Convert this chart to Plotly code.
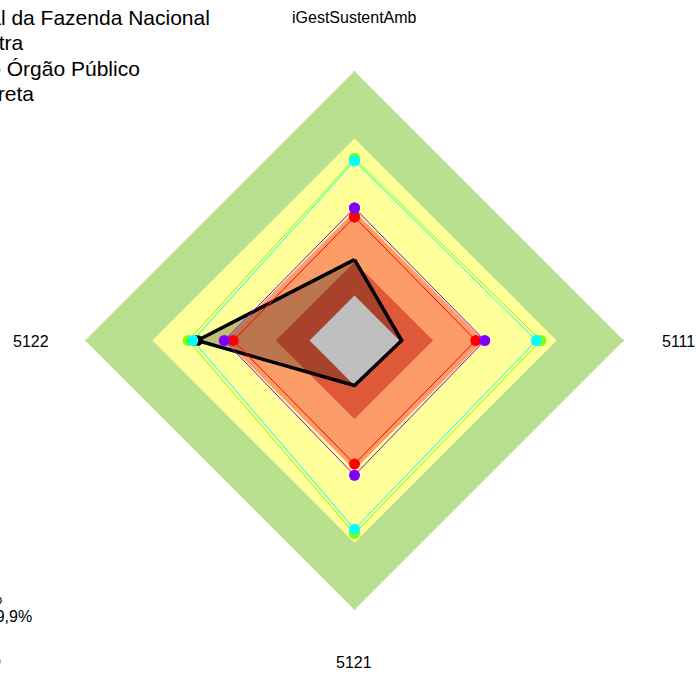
import plotly.graph_objects as go

# Axes of the radar (clockwise from the top)
categories = ["iGestSustentAmb", "5111", "5121", "5122"]

# Capability bands (upper limit of each band)
band_limits = [1.0, 0.70, 0.375, 0.15, 0.0]
band_colors = ["#B8E08E", "#FFFF99", "#FC9C68", "#E0583A", "#FFFFFF"]

# Organisation scores
org_name = "Procuradoria-Geral da Fazenda Nacional"
org_values = [0.16, 0.01, 0.0, 0.50]

# Reference series
ref_names = ["Média da Amostra", "Média do Tipo Órgão Público",
             "Média da Administração Direta", "Meta"]
ref_colors = ["#FF0000", "#8000FF", "#80FF00", "#00FFFF"]
ref_values = [
    [0.35, 0.34, 0.35, 0.34],
    [0.39, 0.38, 0.40, 0.38],
    [0.61, 0.63, 0.66, 0.54],
    [0.60, 0.61, 0.64, 0.52],
]

# Legend texts
legend_lines = [org_name, ref_names[0], ref_names[1], ref_names[2]]
band_lines = ["Aprimorado: 70,1% a 100%", "Intermediário: 40% a 70%",
              "Iniciando: 15% a 39,9%", "Inexpressivo"]

FONT = "Arial, Liberation Sans, sans-serif"
W, H = 696, 675
M = dict(l=85, r=72, t=71, b=65)
PW, PH = W - M["l"] - M["r"], H - M["t"] - M["b"]


def px_x(px):
    return (px - M["l"]) / PW


def px_y(py):
    return 1 - (py - M["t"]) / PH


def closed(vals):
    return list(vals) + [vals[0]]


theta = closed(categories)
fig = go.Figure()

for lim, col in zip(band_limits, band_colors):
    fig.add_trace(go.Scatterpolar(
        r=closed([lim] * len(categories)), theta=theta, mode="lines",
        fill="toself", fillcolor=col, line=dict(width=0, color=col),
        hoverinfo="skip", showlegend=False))

fig.add_trace(go.Scatterpolar(
    r=closed(org_values), theta=theta, mode="lines+markers", name=org_name,
    fill="toself", fillcolor="rgba(0,0,0,0.25)",
    line=dict(color="black", width=3.5), marker=dict(color="black", size=11),
    showlegend=False))

for name, col, vals in zip(ref_names, ref_colors, ref_values):
    fig.add_trace(go.Scatterpolar(
        r=closed(vals), theta=theta, mode="lines+markers", name=name,
        line=dict(color=col, width=1), marker=dict(color=col, size=11),
        showlegend=False))

annotations = []
# Category labels around the radar
for text, (cx, cy) in zip(categories, [(354, 18), (678, 341), (354, 662), (31, 341)]):
    annotations.append(dict(text=text, x=px_x(cx), y=px_y(cy), xref="paper",
                            yref="paper", xanchor="center", yanchor="middle",
                            showarrow=False, font=dict(size=16, color="black", family=FONT)))
# Legend blocks
for text, xr, yc in zip(legend_lines, [212, 26, 142, 36], [18, 43, 68, 94]):
    annotations.append(dict(text=text, x=px_x(xr), y=px_y(yc), xref="paper",
                            yref="paper", xanchor="right", yanchor="middle",
                            showarrow=False, font=dict(size=21, color="black", family=FONT)))
for text, xr, yc in zip(band_lines, [2, 4, 34, 3], [578, 598, 617, 660]):
    annotations.append(dict(text=text, x=px_x(xr), y=px_y(yc), xref="paper",
                            yref="paper", xanchor="right", yanchor="middle",
                            showarrow=False, font=dict(size=16, color="black", family=FONT)))

fig.update_layout(
    width=W, height=H, margin=M, paper_bgcolor="white", plot_bgcolor="white",
    font=dict(family=FONT, size=16, color="black"),
    showlegend=False, annotations=annotations,
    polar=dict(
        bgcolor="white", gridshape="linear",
        domain=dict(x=[0, 1], y=[0, 1]),
        radialaxis=dict(range=[-0.2, 1.0], visible=True, showgrid=False,
                        showline=False, showticklabels=False, ticks=""),
        angularaxis=dict(direction="clockwise", rotation=90, showline=False,
                         gridcolor="rgba(205,205,205,0.9)", gridwidth=1.5,
                         ticks="", showticklabels=False),
    ),
)

fig.write_html("out.html")
